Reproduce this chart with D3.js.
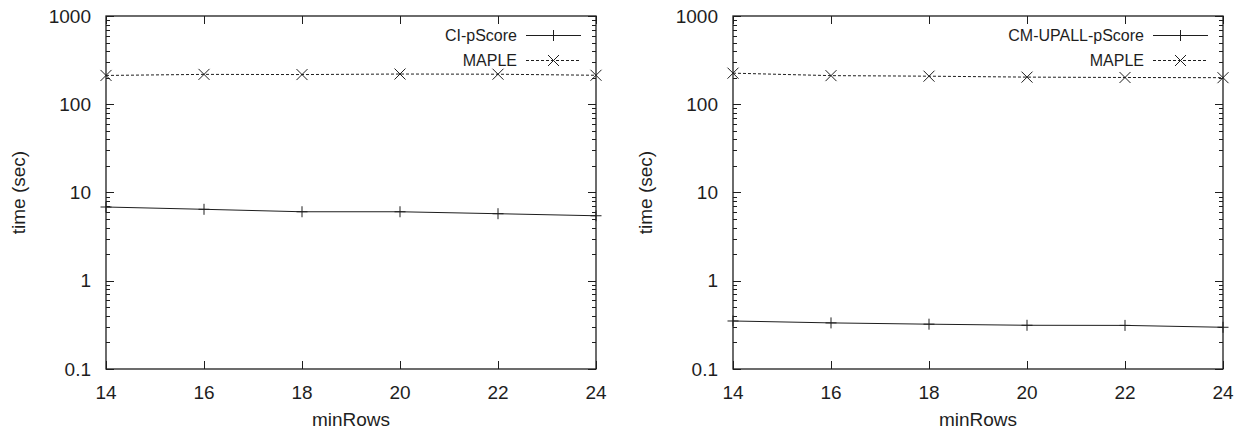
<!DOCTYPE html>
<html>
<head>
<meta charset="utf-8">
<script src="https://cdn.jsdelivr.net/npm/d3@7"></script>
<style>
  html, body { margin: 0; padding: 0; background: #fff; }
  svg { display: block; font-family: "Liberation Sans", Arial, Helvetica, sans-serif; }
</style>
</head>
<body>
<svg id="chart" width="1249" height="439"></svg>
<script>
// minRows settings on the x axis
const minRows = [14, 16, 18, 20, 22, 24];
const xTicks = [14, 16, 18, 20, 22, 24];
const yTicks = [0.1, 1, 10, 100, 1000];
const yTickLabels = ["0.1", "1", "10", "100", "1000"];

// Left panel: running time in seconds
const ciPScore = [6.85, 6.45, 6.05, 6.05, 5.75, 5.45];
const mapleLeft = [212, 218, 217, 220, 219, 213];

// Right panel: running time in seconds
const cmUpallPScore = [0.35, 0.333, 0.322, 0.313, 0.312, 0.297];
const mapleRight = [225, 211, 208, 203, 201, 200];

const panels = [
  { left: 106, series: [
      { name: "CI-pScore", values: ciPScore, marker: "plus", dash: null },
      { name: "MAPLE", values: mapleLeft, marker: "cross", dash: "3,2" } ] },
  { left: 733, series: [
      { name: "CM-UPALL-pScore", values: cmUpallPScore, marker: "plus", dash: null },
      { name: "MAPLE", values: mapleRight, marker: "cross", dash: "3,2" } ] }
];

const svg = d3.select("#chart");
const plotW = 490, plotTop = 16, plotBottom = 369;
const ink = "#1e1e1e";
const labelSize = 19, keySize = 16;

function drawMarker(g, type, x, y) {
  const s = 5.5;
  const d = type === "plus"
    ? `M${x - s},${y}H${x + s}M${x},${y - s}V${y + s}`
    : `M${x - s},${y - s}L${x + s},${y + s}M${x - s},${y + s}L${x + s},${y - s}`;
  g.append("path").attr("d", d).attr("stroke", ink).attr("stroke-width", 1).attr("fill", "none");
}

panels.forEach(p => {
  const x = d3.scaleLinear().domain([14, 24]).range([p.left, p.left + plotW]);
  const y = d3.scaleLog().domain([0.1, 1000]).range([plotBottom, plotTop]);
  const g = svg.append("g");

  // minor log ticks on left and right edges
  const minor = [];
  for (let e = -1; e < 3; e++) {
    for (let k = 2; k <= 9; k++) minor.push(k * Math.pow(10, e));
  }
  minor.forEach(v => {
    const yy = Math.round(y(v)) + 0.5;
    g.append("line").attr("x1", x(14)).attr("x2", x(14) + 4).attr("y1", yy).attr("y2", yy)
      .attr("stroke", ink).attr("stroke-width", 1);
    g.append("line").attr("x1", x(24)).attr("x2", x(24) - 4).attr("y1", yy).attr("y2", yy)
      .attr("stroke", ink).attr("stroke-width", 1);
  });
  // major y ticks
  yTicks.forEach((v, i) => {
    const yy = Math.round(y(v)) + 0.5;
    g.append("line").attr("x1", x(14)).attr("x2", x(14) + 8).attr("y1", yy).attr("y2", yy)
      .attr("stroke", ink).attr("stroke-width", 1);
    g.append("line").attr("x1", x(24)).attr("x2", x(24) - 8).attr("y1", yy).attr("y2", yy)
      .attr("stroke", ink).attr("stroke-width", 1);
    g.append("text").attr("x", x(14) - 15).attr("y", y(v)).attr("dy", "0.35em")
      .attr("text-anchor", "end").attr("font-size", labelSize).attr("fill", ink).text(yTickLabels[i]);
  });
  // x ticks (bottom and mirrored top)
  xTicks.forEach(v => {
    const xx = Math.round(x(v)) + 0.5;
    g.append("line").attr("x1", xx).attr("x2", xx).attr("y1", plotBottom).attr("y2", plotBottom - 8)
      .attr("stroke", ink).attr("stroke-width", 1);
    g.append("line").attr("x1", xx).attr("x2", xx).attr("y1", plotTop).attr("y2", plotTop + 8)
      .attr("stroke", ink).attr("stroke-width", 1);
    g.append("text").attr("x", x(v)).attr("y", plotBottom + 23).attr("dy", "0.35em")
      .attr("text-anchor", "middle").attr("font-size", labelSize).attr("fill", ink).text(v);
  });

  // frame
  g.append("rect").attr("x", x(14)).attr("y", plotTop).attr("width", plotW).attr("height", plotBottom - plotTop)
    .attr("fill", "none").attr("stroke", ink).attr("stroke-width", 1.3);

  // axis titles
  g.append("text").attr("x", p.left + plotW / 2).attr("y", 419).attr("dy", "0.35em")
    .attr("text-anchor", "middle").attr("font-size", labelSize).attr("fill", ink).text("minRows");
  g.append("text").attr("transform", `translate(${p.left - 88},${(plotTop + plotBottom) / 2}) rotate(-90)`)
    .attr("dy", "0.35em").attr("text-anchor", "middle").attr("font-size", labelSize).attr("fill", ink)
    .text("time (sec)");

  // series
  const line = d3.line().x((d, i) => x(minRows[i])).y(d => y(d));
  p.series.forEach((s, si) => {
    g.append("path").datum(s.values).attr("d", line)
      .attr("fill", "none").attr("stroke", ink).attr("stroke-width", 1)
      .attr("stroke-dasharray", s.dash);
    s.values.forEach((v, i) => drawMarker(g, s.marker, x(minRows[i]), y(v)));

    // key entry
    const ky = 35 + si * 25;
    const lx2 = p.left + plotW - 15, lx1 = lx2 - 55;
    g.append("line").attr("x1", lx1).attr("x2", lx2).attr("y1", ky + 0.5).attr("y2", ky + 0.5)
      .attr("stroke", ink).attr("stroke-width", 1).attr("stroke-dasharray", s.dash);
    drawMarker(g, s.marker, (lx1 + lx2) / 2, ky + 0.5);
    g.append("text").attr("x", lx1 - 9).attr("y", ky).attr("dy", "0.35em")
      .attr("text-anchor", "end").attr("font-size", keySize).attr("fill", ink).text(s.name);
  });
});
</script>
</body>
</html>
